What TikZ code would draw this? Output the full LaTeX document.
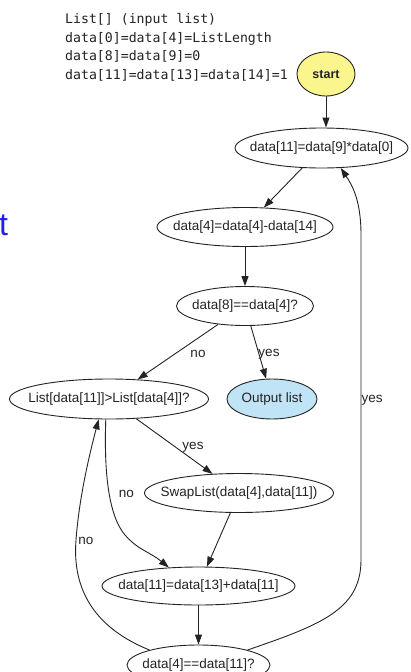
\documentclass[tikz,border=0pt]{standalone}
\usepackage{fontspec}
\setmainfont{Liberation Sans}
\newfontfamily\monof{DejaVu Sans Mono}
\usetikzlibrary{shapes.geometric,arrows.meta}
\definecolor{startfill}{RGB}{250,245,140}
\definecolor{outfill}{RGB}{192,228,245}
\definecolor{slideblue}{RGB}{30,30,230}
\definecolor{inktext}{RGB}{35,35,35}
\newcommand{\zbox}[1]{\makebox[0pt]{#1}}
\begin{document}
\begin{tikzpicture}[x=1pt,y=-1pt,
  flow/.style={ellipse, draw=inktext, line width=0.9pt, inner sep=0pt, text=inktext,
    font=\fontsize{13.5}{16}\selectfont},
  lbl/.style={font=\fontsize{13.5}{16}\selectfont, inner sep=0pt, text=inktext},
  infoline/.style={anchor=base west, inner sep=0pt, text=inktext,
    font=\monof\fontsize{13.2}{16}\selectfont},
  conn/.style={draw=inktext, line width=0.9pt, -{Triangle[length=10pt,width=7pt]}},
  frag/.style={inner sep=0pt, text=slideblue, font=\fontsize{32}{36}\selectfont},
]
\useasboundingbox (0,0) rectangle (410,672);

% stray slide fragment at left edge
\node[frag, anchor=base west] (fragt) at (-1,235) {t};

% info text
\node[infoline] (info1) at (65,23.5) {List[] (input list)};
\node[infoline] (info2) at (65,42) {data[0]=data[4]=ListLength};
\node[infoline] (info3) at (65,60.5) {data[8]=data[9]=0};
\node[infoline] (info4) at (65,79) {data[11]=data[13]=data[14]=1};

% nodes
\node[flow, fill=startfill, minimum width=58pt, minimum height=44pt,
  font=\bfseries\fontsize{12.5}{15}\selectfont] (start) at (326,74) {\zbox{start}};
\node[flow, minimum width=173pt, minimum height=40pt] (n1) at (321.5,148) {\zbox{data[11]=data[9]*data[0]}};
\node[flow, minimum width=176pt, minimum height=39pt] (n2) at (245,227) {\zbox{data[4]=data[4]-data[14]}};
\node[flow, minimum width=137pt, minimum height=39pt] (n3) at (245,306) {\zbox{data[8]==data[4]?}};
\node[flow, minimum width=199pt, minimum height=40pt] (n4) at (109,399) {\zbox{List[data[11]]>List[data[4]]?}};
\node[flow, fill=outfill, minimum width=90pt, minimum height=40pt] (n5) at (272,399) {\zbox{Output list}};
\node[flow, minimum width=189pt, minimum height=39pt] (n6) at (239,493) {\zbox{SwapList(data[4],data[11])}};
\node[flow, minimum width=193pt, minimum height=38pt] (n7) at (198.5,586) {\zbox{data[11]=data[13]+data[11]}};
\node[flow, minimum width=143pt, minimum height=40pt] (n8) at (198.5,665) {\zbox{data[4]==data[11]?}};

% connectors
\draw[conn] (start) -- (start.south |- n1.north);
\draw[conn] (n1) -- (n2);
\draw[conn] (n2) -- (n3);
\draw[conn] (n3) -- (n4);
\draw[conn] (n3) -- (n5);
\draw[conn] (n4) -- (n6);
\draw[conn] (n6) -- (n7);
\draw[conn] (n7) -- (n8);
\draw[conn] (n4.261) .. controls (104,470) and (108,515) .. (125,535)
  .. controls (138,550) and (150,552) .. (n7.148);
\draw[conn] (n8.163) .. controls (95,628) and (72,590) .. (76,540)
  .. controls (79,500) and (88,460) .. (n4.243);
\draw[conn] (n8.17) .. controls (320,625) and (361,610) .. (361,560)
  -- (361,235) .. controls (361,200) and (352,185) .. (n1.314);

% edge labels
\node[lbl] (l1) at (198,354) {no};
\node[lbl] (l2) at (269,354) {yes};
\node[lbl] (l3) at (193,447) {yes};
\node[lbl] (l4) at (126.5,494) {no};
\node[lbl] (l5) at (86,541) {no};
\node[lbl] (l6) at (372,400) {yes};
\end{tikzpicture}
\end{document}
